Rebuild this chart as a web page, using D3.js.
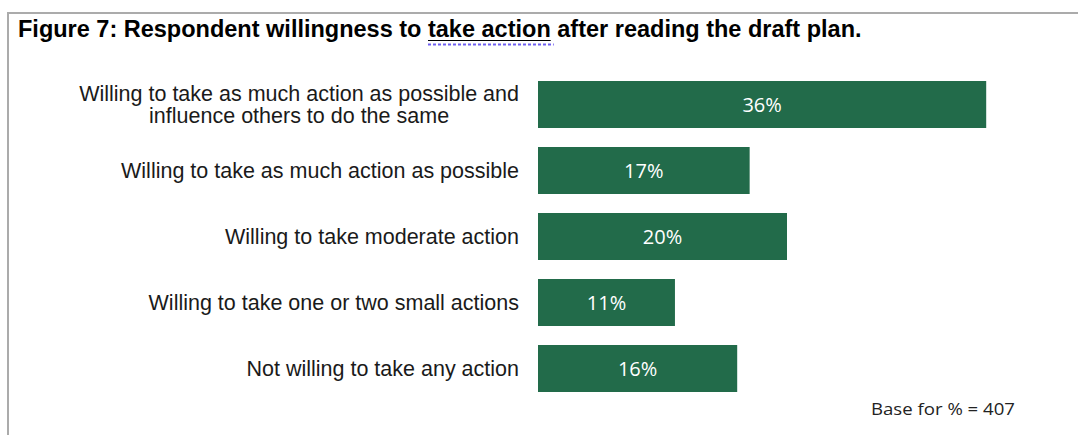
<!DOCTYPE html>
<html>
<head>
<meta charset="utf-8">
<script src="https://cdn.jsdelivr.net/npm/d3@7"></script>
<style>
  html, body { margin: 0; padding: 0; background: #fff; }
  svg { display: block; }
</style>
</head>
<body>
<div class="stage"></div>
<script>
// chart data
var categories = [
  ["Willing to take as much action as possible and", "influence others to do the same"],
  ["Willing to take as much action as possible"],
  ["Willing to take moderate action"],
  ["Willing to take one or two small actions"],
  ["Not willing to take any action"]
];
var values = [36, 17, 20, 11, 16];
var valueLabels = ["36%", "17%", "20%", "11%", "16%"];
var titleText = "Figure 7: Respondent willingness to take action after reading the draft plan.";
var baseNote = "Base for % = 407";

var width = 1078,
    height = 435;
var barColor = "#226b4a";
var labelRight = 519;

var svg = d3.select(".stage").append("svg")
    .attr("width", width)
    .attr("height", height);

// frame: top and left edge only
svg.append("line")
  .attr("x1", 8).attr("x2", width)
  .attr("y1", 13).attr("y2", 13)
  .attr("stroke", "#ababab").attr("stroke-width", 2);
svg.append("line")
  .attr("x1", 8).attr("x2", 8)
  .attr("y1", 12).attr("y2", height)
  .attr("stroke", "#ababab").attr("stroke-width", 2);

// title
var title = svg.append("text")
  .attr("x", 18)
  .attr("y", 37)
  .attr("font-family", "'Liberation Sans', Arial, sans-serif")
  .attr("font-weight", "bold")
  .attr("font-size", "23.5px")
  .attr("fill", "#000")
  .text(titleText);

// the "take action" underline + spellcheck squiggle
var node = title.node();
var start = titleText.indexOf("take action");
var x0 = 18 + node.getSubStringLength(0, start);
var x1 = x0 + node.getSubStringLength(start, "take action".length);
svg.append("line")
  .attr("x1", x0).attr("x2", x1)
  .attr("y1", 40.5).attr("y2", 40.5)
  .attr("stroke", "#000").attr("stroke-width", 1);
svg.append("line")
  .attr("x1", x0).attr("x2", x1 + 3)
  .attr("y1", 44.5).attr("y2", 44.5)
  .attr("stroke", "#6f5ff0").attr("stroke-width", 2)
  .attr("stroke-dasharray", "3,2");

// scales
var x = d3.scaleLinear()
    .domain([0, 40])
    .range([538, 1036]);

var y = d3.scaleBand()
    .domain(d3.range(values.length))
    .range([71.5, 401.5])
    .paddingInner(0.288)
    .paddingOuter(0.144);

var rows = svg.selectAll(".row")
  .data(values)
  .enter().append("g")
  .attr("class", "row");

rows.append("rect")
  .attr("x", x(0))
  .attr("y", function(d, i) { return y(i); })
  .attr("width", function(d) { return x(d) - x(0); })
  .attr("height", y.bandwidth())
  .attr("fill", barColor);

rows.append("text")
  .attr("x", function(d) { return (x(0) + x(d)) / 2; })
  .attr("y", function(d, i) { return y(i) + y.bandwidth() / 2; })
  .attr("dy", "0.35em")
  .attr("text-anchor", "middle")
  .attr("font-family", "'Open Sans', sans-serif")
  .attr("font-size", "20px")
  .attr("fill", "#fff")
  .text(function(d, i) { return valueLabels[i]; });

// category labels: block right aligned, lines centred inside the block
var lineGap = 22;
var labels = svg.selectAll(".cat")
  .data(categories)
  .enter().append("text")
  .attr("class", "cat")
  .attr("font-family", "'Liberation Sans', Arial, sans-serif")
  .attr("font-size", "21.5px")
  .attr("fill", "#1a1a1a");

labels.each(function(lines, i) {
  var t = d3.select(this);
  var c = y(i) + y.bandwidth() / 2;
  var spans = lines.map(function(line, j) {
    return t.append("tspan")
      .attr("y", c + (j - (lines.length - 1) / 2) * lineGap)
      .attr("dy", "0.35em")
      .text(line);
  });
  var maxW = d3.max(spans, function(s) { return s.node().getComputedTextLength(); });
  spans.forEach(function(s) {
    s.attr("x", labelRight - maxW / 2).attr("text-anchor", "middle");
  });
});

// base note
svg.append("text")
  .attr("x", 871)
  .attr("y", 415)
  .attr("font-family", "'Open Sans', sans-serif")
  .attr("font-size", "15.5px")
  .attr("fill", "#222")
  .attr("textLength", 144)
  .attr("lengthAdjust", "spacingAndGlyphs")
  .text(baseNote);
</script>
</body>
</html>
